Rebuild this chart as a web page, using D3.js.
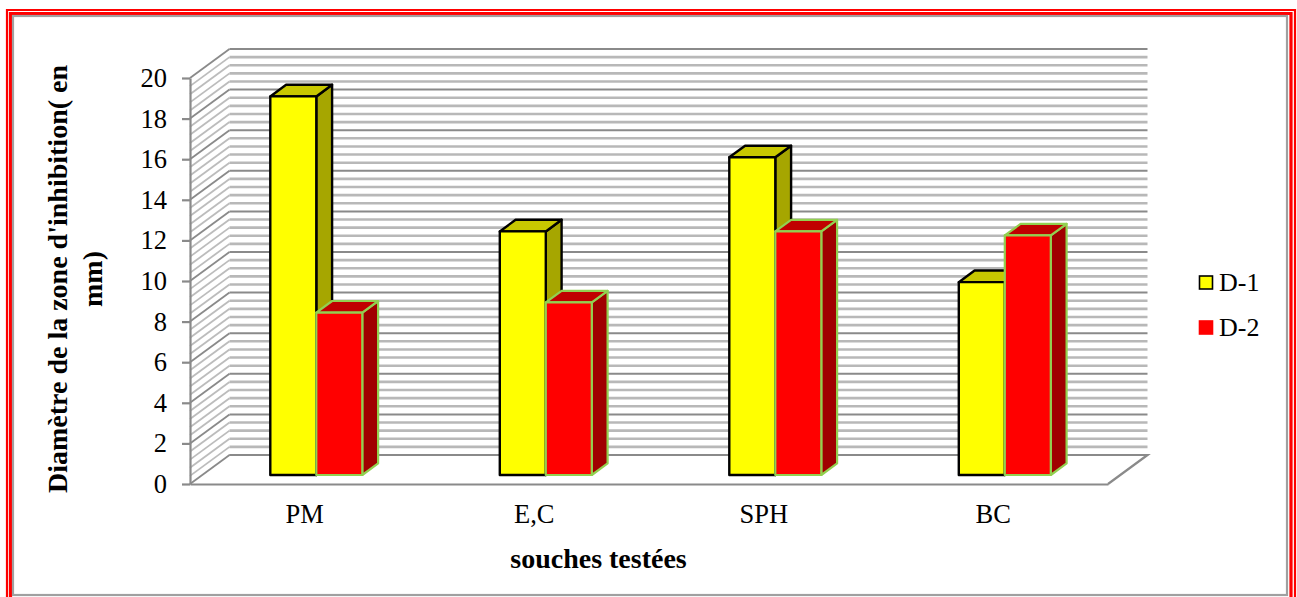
<!DOCTYPE html>
<html>
<head>
<meta charset="utf-8">
<script src="https://cdn.jsdelivr.net/npm/d3@7"></script>
<style>
  html, body { margin: 0; padding: 0; background: #fff; overflow: hidden; }
  svg { display: block; }
  text { font-family: "Liberation Serif", serif; fill: #000; }
</style>
</head>
<body>
<div id="chart"></div>
<script>
// chart values
const categories = ["PM", "E,C", "SPH", "BC"];
const seriesNames = ["D-1", "D-2"];
const d1Values = [18.65, 12, 15.65, 9.5];
const d2Values = [8, 8.5, 12, 11.8];
const yTicks = [0, 2, 4, 6, 8, 10, 12, 14, 16, 18, 20];
const gridStep = 0.4;

const width = 1297, height = 597;
const svg = d3.select("#chart").append("svg")
  .attr("width", width)
  .attr("height", height);

// frame: thin red, thick red, grey inner line. open at the bottom
const frame = svg.append("g").attr("fill", "none");
frame.append("path").attr("d", "M7,597V10H1295V597").attr("stroke", "#f00").attr("stroke-width", 2.2);
frame.append("path").attr("d", "M10.5,597V13.5H1291V597").attr("stroke", "#f00").attr("stroke-width", 3.2);
frame.append("rect").attr("x", 13).attr("y", 16).attr("width", 1274).attr("height", 579)
  .attr("stroke", "#a0a0a0").attr("stroke-width", 2.2);

// scales for the front plane, depth goes from 0 (front) to 1 (back wall)
const y = d3.scaleLinear().domain([0, 20]).range([484, 78]);
const x = d3.scaleBand().domain(categories).range([190, 1108]);
const depthX = 39.5, depthY = -29;
const px = (vx, d) => vx + depthX * d;
const py = (v, d) => y(v) + depthY * d;

// gridlines on back and side wall
const gridValues = d3.range(0, 20 + gridStep / 2, gridStep).map(v => +v.toFixed(1));
const isMajor = v => Math.abs(v / 2 - Math.round(v / 2)) < 1e-6;
const walls = svg.append("g").attr("fill", "none");
gridValues.forEach(v => {
  const major = isMajor(v);
  walls.append("path")
    .attr("d", `M${x.range()[0]},${y(v)}L${px(x.range()[0], 1)},${py(v, 1)}`)
    .attr("stroke", major ? "#8a8a8a" : "#bcbcbc")
    .attr("stroke-width", 1.8);
  walls.append("path")
    .attr("d", `M${px(x.range()[0], 1)},${py(v, 1)}H${px(x.range()[1], 1)}`)
    .attr("stroke", major ? "#8a8a8a" : "#b8b8b8")
    .attr("stroke-width", major ? 2 : 2.6);
});
// floor edges
walls.append("path")
  .attr("d", `M${px(x.range()[0], 1)},${py(0, 1)}H${px(x.range()[1], 1)}L${x.range()[1]},${y(0)}`)
  .attr("stroke", "#8a8a8a").attr("stroke-width", 2.2);

// axes
const yAxis = d3.axisLeft(y).tickValues(yTicks).tickSize(8).tickPadding(15).tickSizeOuter(0);
const yG = svg.append("g").attr("transform", "translate(190,0)").call(yAxis);
yG.selectAll("path,line").attr("stroke", "#8a8a8a").attr("stroke-width", 2.2);
yG.selectAll("text").attr("font-size", 26.5).attr("font-family", "Liberation Serif").attr("fill", "#000");

const xAxis = d3.axisBottom(x).tickSize(0).tickPadding(20).tickSizeOuter(0);
const xG = svg.append("g").attr("transform", `translate(0,${y(0)})`).call(xAxis);
xG.select("path").attr("stroke", "#8a8a8a").attr("stroke-width", 2.2);
xG.selectAll("text").attr("font-size", 26.5).attr("font-family", "Liberation Serif").attr("fill", "#000");

// 3d bars
const barWidth = 46, dFront = 0.31, dBack = 0.71;
const styles = [
  { front: "#ffff00", top: "#c8c800", side: "#a6a600", stroke: "#000", sw: 2.4 },
  { front: "#ff0000", top: "#c00000", side: "#a00000", stroke: "#92d050", sw: 2.2 }
];
const barData = [];
categories.forEach((c, i) => {
  [d1Values, d2Values].forEach((vals, s) => barData.push({ cat: c, s: s, v: vals[i] }));
});
const bars = svg.append("g").selectAll("g").data(barData).enter().append("g")
  .attr("stroke-width", d => styles[d.s].sw)
  .attr("stroke-linejoin", "round")
  .attr("stroke", d => styles[d.s].stroke);

const left = d => x(d.cat) + x.bandwidth() / 2 - barWidth + d.s * barWidth - 0.7;
const corner = (d, vx, v, dp) => [px(vx, dp), py(v, dp)].join(",");
bars.append("path") // side
  .attr("fill", d => styles[d.s].side)
  .attr("d", d => {
    const r = left(d) + barWidth;
    return "M" + [corner(d, r, 0, dFront), corner(d, r, 0, dBack), corner(d, r, d.v, dBack), corner(d, r, d.v, dFront)].join("L") + "Z";
  });
bars.append("path") // top
  .attr("fill", d => styles[d.s].top)
  .attr("d", d => {
    const l = left(d), r = l + barWidth;
    return "M" + [corner(d, l, d.v, dFront), corner(d, l, d.v, dBack), corner(d, r, d.v, dBack), corner(d, r, d.v, dFront)].join("L") + "Z";
  });
bars.append("path") // front
  .attr("fill", d => styles[d.s].front)
  .attr("d", d => {
    const l = left(d), r = l + barWidth;
    return "M" + [corner(d, l, 0, dFront), corner(d, l, d.v, dFront), corner(d, r, d.v, dFront), corner(d, r, 0, dFront)].join("L") + "Z";
  });

// axis titles
svg.append("text")
  .attr("x", 598.5).attr("y", 568)
  .attr("text-anchor", "middle")
  .attr("font-size", 28).attr("font-weight", "bold")
  .text("souches testées");
const yTitle = svg.append("text")
  .attr("transform", "translate(67,279) rotate(-90)")
  .attr("text-anchor", "middle")
  .attr("font-size", 28).attr("font-weight", "bold");
yTitle.append("tspan").attr("x", 0).attr("y", 0).text("Diamètre de la zone d'inhibition( en");
yTitle.append("tspan").attr("x", 0).attr("y", 35).text("mm)");

// legend
const legend = svg.append("g").selectAll("g").data(seriesNames).enter().append("g")
  .attr("transform", (d, i) => `translate(1199,${275 + i * 45})`);
legend.append("rect")
  .attr("x", 0.5).attr("y", 1).attr("width", 13).attr("height", 13)
  .attr("fill", (d, i) => styles[i].front)
  .attr("stroke", (d, i) => i === 0 ? "#000" : "#f00")
  .attr("stroke-width", 1.6);
legend.append("text")
  .attr("x", 20).attr("y", 16)
  .attr("font-size", 26)
  .text(d => d);
</script>
</body>
</html>
